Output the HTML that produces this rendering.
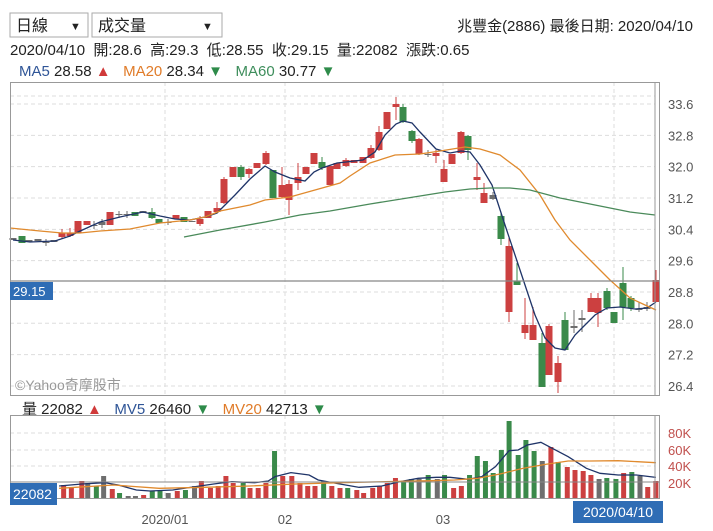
<!DOCTYPE html>
<html><head><meta charset="utf-8"><style>
body{margin:0;background:#fff;width:713px;height:531px;overflow:hidden;font-family:"Liberation Sans","Noto Sans CJK TC",sans-serif;}
</style></head><body>
<svg id="s" width="713" height="531" xmlns="http://www.w3.org/2000/svg" style="position:absolute;left:0;top:0;font-family:'Liberation Sans','Noto Sans CJK TC',sans-serif">
<rect x="10" y="13" width="78" height="24" fill="#fff" stroke="#aaa"/>
<text x="16" y="31" font-size="16" fill="#222">日線</text><text x="70" y="30" font-size="11" fill="#222">▼</text>
<rect x="92" y="13" width="130" height="24" fill="#fff" stroke="#aaa"/>
<text x="98" y="31" font-size="16" fill="#222">成交量</text><text x="202" y="30" font-size="11" fill="#222">▼</text>
<text x="693" y="31" font-size="15" fill="#222" text-anchor="end">兆豐金(2886)  最後日期: 2020/04/10</text>
<text x="10" y="55" font-size="15" fill="#222" xml:space="preserve">2020/04/10  開:28.6  高:29.3  低:28.55  收:29.15  量:22082  漲跌:0.65</text>
<text x="19" y="76" font-size="15" xml:space="preserve"><tspan fill="#2f5597">MA5</tspan><tspan fill="#222"> 28.58 </tspan><tspan fill="#d03a3a">▲</tspan><tspan fill="#e07b28">   MA20</tspan><tspan fill="#222"> 28.34 </tspan><tspan fill="#2e8b4a">▼</tspan><tspan fill="#3e8e5c">   MA60</tspan><tspan fill="#222"> 30.77 </tspan><tspan fill="#2e8b4a">▼</tspan></text>
<text x="22" y="414" font-size="15" xml:space="preserve"><tspan fill="#222">量 22082 </tspan><tspan fill="#d03a3a">▲</tspan><tspan fill="#2f5597">   MV5</tspan><tspan fill="#222"> 26460 </tspan><tspan fill="#2e8b4a">▼</tspan><tspan fill="#e07b28">   MV20</tspan><tspan fill="#222"> 42713 </tspan><tspan fill="#2e8b4a">▼</tspan></text>
<g id="g"></g>
</svg>
<script>
var g=document.getElementById('g'),h='';
function L(x1,y1,x2,y2,c,w,d){h+='<line x1="'+x1+'" y1="'+y1+'" x2="'+x2+'" y2="'+y2+'" stroke="'+c+'" stroke-width="'+(w||1)+'"'+(d?' stroke-dasharray="'+d+'"':'')+'/>';}
function R(x,y,w,hh,c){h+='<rect x="'+x+'" y="'+y+'" width="'+w+'" height="'+Math.max(hh,1)+'" fill="'+c+'"/>';}
function P(pts,c,w){h+='<polyline fill="none" stroke="'+c+'" stroke-width="'+(w||1.3)+'" points="'+pts.map(function(p){return p[0]+','+p[1]}).join(' ')+'"/>';}
function T(x,y,t,c,s,a){h+='<text x="'+x+'" y="'+y+'" font-size="'+(s||13)+'" fill="'+c+'"'+(a?' text-anchor="'+a+'"':'')+'>'+t+'</text>';}
// main grid
var lv=['33.6','32.8','32.0','31.2','30.4','29.6','28.8','28.0','27.2','26.4'];
L(10,96,655,96,'#ddd',1,'4,3');
for(var i=0;i<10;i++){var y=104+i*31.33;L(10,y,655,y,'#ddd',1,'4,3');T(668,y+5,lv[i],'#555',13);}
[165,285,443,614].forEach(function(x){L(x,82,x,396,'#ddd',1,'4,3');L(x,415,x,498,'#ddd',1,'4,3');});
// volume grid
[433,450,466].forEach(function(y){L(10,y,655,y,'#ddd',1,'4,3');});
T(668,438,'80K','#c0504d',13);T(668,455,'60K','#c0504d',13);T(668,471,'40K','#c0504d',13);T(668,488,'20K','#c0504d',13);
var RD='#cc4040',GN='#3a8a4a',GY='#6e6e6e';
// candles: x, color, top, bottom, wickTop, wickBottom
var c=[[13,GY,238,240],[22,GN,236,243],[29,GY,240,242],[38,GY,239,241],[46,GY,242,243,239,246],[54,GY,240,242],[62,RD,233,237,229,238],[70,RD,233,236,228,237],[78,RD,221,233],[87,RD,221,225],[94,GY,225,226,221,229],[102,GY,222,225,219,228],[110,RD,212,225],[119,GY,214,215,211,218],[127,GY,214,215,211,218],[135,GN,212,216],[143,GY,211,213],[152,GN,212,218,208,219],[159,GN,219,223],[168,GY,222,223,219,225],[176,RD,215,219],[184,GN,217,222],[192,GY,221,222],[200,RD,219,224,216,226],[208,RD,211,218],[217,RD,208,212,202,212],[224,RD,179,203,177,204],[233,RD,167,177],[241,GN,167,177,165,180],[249,RD,169,174,168,178],[257,RD,163,168],[266,RD,153,164,151,165],[273,GN,170,198],[282,RD,185,197,167,198],[289,RD,184,200,180,215],[298,RD,177,183,163,190],[306,RD,167,174],[314,RD,153,164],[322,GN,162,168,157,170],[330,RD,166,185],[337,RD,163,169],
[346,RD,160,166,158,167],[354,RD,160,163],[363,RD,157,163],[371,RD,148,158,145,159],[379,RD,132,150,126,151],[387,RD,112,129],[396,RD,104,107,97,120],[403,GN,107,122,104,123],[412,GN,131,141,130,143],[419,RD,139,154,138,155],[428,GY,154,155,150,157],[436,RD,153,156,150,163],[444,RD,169,182,160,182],[452,RD,154,164],[461,RD,132,153,131,154],[468,GN,136,150,135,160],[477,RD,177,180,163,190],[484,RD,193,203,183,203],[493,GY,195,199,192,200],[501,GN,216,239,212,245],[509,RD,246,312,238,322],[517,GN,281,285,263,285],[525,RD,325,333,298,339],[533,RD,325,340,307,340],[542,GN,343,387,333,387],[549,RD,326,375,324,375],[558,RD,363,382,356,393],[565,GN,320,350,312,350],[574,GY,326,328,310,333],[582,GY,318,320,310,332],[591,RD,298,312,293,312],[598,RD,298,313,293,327],[607,GN,291,308,288,310],[614,GN,312,323],[623,GN,283,307,267,320],[631,GN,298,308,296,311],[639,GY,309,310,302,312],[647,GY,307,309,302,311],[656,RD,280,302,270,302]];
c.forEach(function(k){var wt=k[4]||k[2],wb=k[5]||k[3];L(k[0],wt,k[0],wb,k[1],1);R(k[0]-3.5,k[2],7,k[3]-k[2],k[1]);});
// MA lines
P([[13,240],[30,242],[55,241],[70,236],[78,232],[100,222],[120,217],[143,212],[160,216],[175,219],[190,220],[205,217],[217,213],[235,195],[250,179],[265,166],[275,172],[290,178],[305,181],[314,172],[322,168],[337,163],[346,162],[363,160],[375,152],[385,135],[396,124],[403,121],[412,123],[420,132],[436,149],[450,153],[461,151],[470,152],[480,165],[492,185],[505,225],[520,270],[535,315],[545,338],[555,348],[565,350],[575,335],[585,325],[595,315],[607,308],[620,307],[635,309],[647,308],[656,302]],'#1f3468');
P([[10,228],[40,231],[62,233],[80,233],[100,231],[130,229],[160,223],[190,220],[205,217],[220,211],[250,205],[265,200],[290,197],[315,190],[340,183],[350,176],[370,163],[395,155],[420,154],[440,151],[465,147],[480,149],[500,155],[520,170],[540,195],[555,220],[570,240],[590,260],[610,280],[630,298],[645,305],[656,310]],'#e08a2e');
P([[184,237],[220,230],[265,222],[300,215],[330,211],[370,204],[420,196],[445,192],[470,189],[490,188],[510,188],[530,190],[560,198],[600,206],[630,212],[655,215]],'#4a8a5a');
// current price line
L(10,281,660,281,'#888',1.2);
// frames
h+='<rect x="10.5" y="82.5" width="649" height="313" fill="none" stroke="#999"/>';
L(655,82,655,396,'#999',1);
T(15,390,'©Yahoo奇摩股市','#999',14);
R(10,282,43,18,'#2f6db5');T(13,296,'29.15','#fff',13);
// volume
var v=[[140,RD,13],[157,RD,10],[180,RD,17],[193,GY,15],[212,GN,12],[228,GY,22],[247,RD,9],[263,GN,5],[282,GY,2],[298,GY,2],[316,RD,3],[335,GN,7],[352,GN,7],[370,GY,5],[390,RD,7],[408,GN,8],[428,GY,12],[443,RD,17],[463,RD,10],[480,RD,12],[497,RD,22],[513,RD,15],[535,GN,15],[550,RD,10],[568,RD,10],[585,RD,15],[604,GN,47],[622,RD,22],[642,RD,22],[660,RD,15],[677,RD,12],[693,RD,12],[712,GN,17],[730,RD,12],[748,RD,10],[765,GN,10],[785,RD,8],[800,RD,5],[820,RD,10],[835,RD,12],[852,RD,15],[870,RD,20],[888,GN,17],[905,GN,19],[922,GY,19],[942,GN,23],[962,GY,19],[978,GN,23],[998,RD,10],[1015,RD,12],[1033,GN,23],[1050,GN,42],[1068,GN,37],[1085,GN,25],[1103,GN,48],[1120,GN,77],[1140,GN,43],[1157,GN,58],[1175,GN,47],[1193,GY,37],[1212,RD,51],[1228,GN,36],[1248,RD,31],[1265,RD,28],[1283,RD,27],[1300,RD,23],[1318,GY,19],[1335,GN,20],[1355,GN,19],[1372,RD,25],[1390,GN,26],[1408,GY,22],[1425,RD,11],[1443,RD,17]];
v.forEach(function(b){var x=b[0]/2.2;R(x-2.5,498-b[2],5,b[2],b[1]);});
function cv(a){return a.map(function(p){return [p[0]/2.2,380+p[1]/3]});}
P(cv([[130,318],[180,312],[230,308],[260,315],[300,330],[330,333],[380,330],[430,320],[470,312],[510,305],[560,308],[590,303],[605,290],[640,278],[680,285],[700,300],[740,310],[790,322],[840,318],[880,305],[920,295],[960,292],[990,292],[1030,298],[1060,290],[1090,260],[1120,212],[1140,210],[1160,195],[1190,187],[1215,205],[1250,230],[1290,265],[1320,280],[1360,285],[1400,285],[1443,292]]),'#1f3468');
P(cv([[130,325],[250,315],[350,325],[450,322],[550,318],[650,312],[750,308],[850,305],[950,302],[1000,300],[1050,295],[1100,282],[1150,265],[1200,253],[1250,243],[1300,243],[1360,242],[1443,248]]),'#e08a2e');
L(10,482,660,482,'#888',1);
h+='<rect x="10.5" y="415.5" width="649" height="83" fill="none" stroke="#999"/>';
L(655,415,655,498,'#999',1);
R(10,483,47,22,'#2f6db5');T(13,499,'22082','#fff',14);
T(165,524,'2020/01','#555',13,'middle');T(285,524,'02','#555',13,'middle');T(443,524,'03','#555',13,'middle');
R(573,501,90,22,'#2f6db5');T(618,517,'2020/04/10','#fff',14,'middle');
g.innerHTML=h;
</script>
</body></html>
